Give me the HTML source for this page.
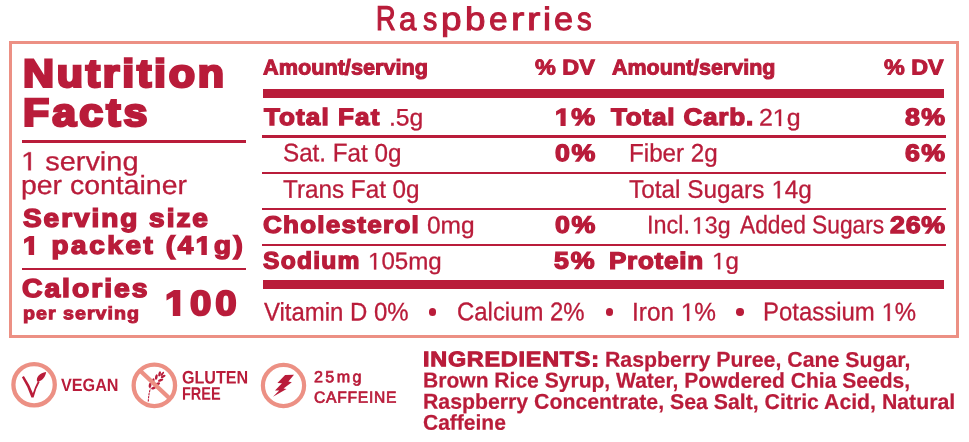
<!DOCTYPE html>
<html><head><meta charset="utf-8"><title>Nutrition Facts</title>
<style>
html,body{margin:0;padding:0;background:#fff;}
body{width:969px;height:442px;position:relative;overflow:hidden;font-family:"Liberation Sans",sans-serif;}
.w{position:absolute;left:0;top:0;width:969px;height:442px;will-change:transform;}
.t{position:absolute;white-space:pre;line-height:1;transform-origin:0 0;font-family:"Liberation Sans",sans-serif;}
.r{position:absolute;background:#B91C3A;}
svg{position:absolute;overflow:visible;}
</style></head><body><div class="w">
<div style="position:absolute;left:9px;top:41px;width:944px;height:291px;border:3px solid #EC9084;box-sizing:content-box;"></div>
<!-- left panel rules -->
<div class="r" style="left:22.3px;top:140px;width:224px;height:3px;"></div>
<div class="r" style="left:22.4px;top:267.8px;width:223.8px;height:2.1px;"></div>
<!-- table rules -->
<div class="r" style="left:263px;top:89px;width:681.3px;height:8.7px;"></div>
<div class="r" style="left:262.2px;top:135px;width:683.4px;height:3px;"></div>
<div class="r" style="left:262.2px;top:171.8px;width:683.4px;height:2.2px;"></div>
<div class="r" style="left:262.2px;top:207.8px;width:683.4px;height:2.2px;"></div>
<div class="r" style="left:262.2px;top:243.8px;width:683.4px;height:2.3px;"></div>
<div class="r" style="left:263px;top:280.4px;width:681.3px;height:8.7px;"></div>
<!-- bullets -->
<div class="r" style="left:428.9px;top:308.4px;width:7.4px;height:7.4px;border-radius:50%;"></div>
<div class="r" style="left:605.5px;top:308.4px;width:7.4px;height:7.4px;border-radius:50%;"></div>
<div class="r" style="left:736.3px;top:308.4px;width:7.4px;height:7.4px;border-radius:50%;"></div>
<!-- icons -->
<svg width="969" height="442" viewBox="0 0 969 442" style="left:0;top:0;">
  <!-- vegan -->
  <circle cx="34.1" cy="384.75" r="20.7" fill="none" stroke="#EC9084" stroke-width="4.3"/>
  <path d="M21.9 377.3 L23.9 376.0 Q29.5 384.5 32.9 393.2 Q35 386.5 38.0 381.0 L39.6 382.0 Q35.5 389 33.6 397.4 L31.4 397.4 Q28 387 21.9 377.3 Z" fill="#B91C3A"/>
  <path d="M37.0 381.3 C36.0 377.4 39.6 372.8 46.1 372.0 C45.5 376.6 42.8 380.4 38.3 381.7 Z" fill="#B91C3A"/>
  <!-- gluten free -->
  <circle cx="154.35" cy="385.4" r="20.7" fill="none" stroke="#EC9084" stroke-width="4.3"/>
  <g fill="#B91C3A" stroke="none">
    <path d="M148.3 401.6 Q148.6 394 150.4 388.6" fill="none" stroke="#B91C3A" stroke-width="1.1" stroke-dasharray="2.3 0.8"/>
    <g transform="translate(150.3,388.4) rotate(-50.5) scale(0.94)">
      <ellipse cx="2.4" cy="-2.3" rx="3.0" ry="1.45" transform="rotate(-30 2.4 -2.3)"/>
      <ellipse cx="2.6" cy="2.4" rx="2.8" ry="1.4" transform="rotate(30 2.6 2.4)"/>
      <ellipse cx="8.0" cy="-2.7" rx="3.0" ry="1.45" transform="rotate(-30 8.0 -2.7)"/>
      <ellipse cx="8.4" cy="2.9" rx="3.0" ry="1.45" transform="rotate(30 8.4 2.9)"/>
      <ellipse cx="13.4" cy="-2.7" rx="3.0" ry="1.4" transform="rotate(-28 13.4 -2.7)"/>
      <ellipse cx="13.8" cy="2.9" rx="3.0" ry="1.4" transform="rotate(28 13.8 2.9)"/>
      <ellipse cx="18.2" cy="-2.2" rx="2.8" ry="1.3" transform="rotate(-24 18.2 -2.2)"/>
      <ellipse cx="18.6" cy="2.4" rx="2.8" ry="1.3" transform="rotate(24 18.6 2.4)"/>
      <ellipse cx="20.0" cy="0" rx="2.8" ry="1.1"/>
    </g>
  </g>
  <path d="M140.2 370.7 L168.9 397.7" stroke="#EC9084" stroke-width="4.3" fill="none"/>
  <!-- caffeine -->
  <circle cx="283.5" cy="385.5" r="20.6" fill="none" stroke="#EC9084" stroke-width="4.2"/>
  <path d="M285.1 375 L294 374.8 L288.4 381.6 L291.8 382.2 L283.5 388.5 L286.5 389.1 L273 396.7 L279.2 390.4 L275 390.4 L281.95 383.3 L277.4 382.9 Z" fill="#B91C3A"/>
</svg>

<span class="t" style="left:375.85px;top:0px;font-size:34.01px;font-weight:400;color:#B91C3A;-webkit-text-stroke:1.3px #B91C3A;transform:translate(0,0.82px) scale(0.7992,1.0000) rotate(0.03deg);">R</span>
<span class="t" style="left:399.09px;top:3px;font-size:32.41px;font-weight:400;color:#B91C3A;-webkit-text-stroke:1.0px #B91C3A;transform:translate(0,0.03px) scale(0.9636,1.0000) rotate(0.03deg);">a</span>
<span class="t" style="left:422.88px;top:3px;font-size:32.41px;font-weight:400;color:#B91C3A;-webkit-text-stroke:1.0px #B91C3A;transform:translate(0,0.12px) scale(0.8829,1.0000) rotate(0.03deg);">s</span>
<span class="t" style="left:441.11px;top:2px;font-size:32.41px;font-weight:400;color:#B91C3A;-webkit-text-stroke:1.0px #B91C3A;transform:translate(0,0.93px) scale(1.1412,1.0000) rotate(0.03deg);">p</span>
<span class="t" style="left:465.09px;top:3px;font-size:32.41px;font-weight:400;color:#B91C3A;-webkit-text-stroke:1.0px #B91C3A;transform:translate(0,0.03px) scale(1.1353,1.0000) rotate(0.03deg);">b</span>
<span class="t" style="left:488.83px;top:2px;font-size:32.41px;font-weight:400;color:#B91C3A;-webkit-text-stroke:1.0px #B91C3A;transform:translate(0,0.93px) scale(1.0326,1.0000) rotate(0.03deg);">e</span>
<span class="t" style="left:510.67px;top:2px;font-size:32.41px;font-weight:400;color:#B91C3A;-webkit-text-stroke:1.0px #B91C3A;transform:translate(0,0.93px) scale(1.2315,1.0000) rotate(0.03deg);">r</span>
<span class="t" style="left:526.97px;top:2px;font-size:32.41px;font-weight:400;color:#B91C3A;-webkit-text-stroke:1.0px #B91C3A;transform:translate(0,0.93px) scale(1.2315,1.0000) rotate(0.03deg);">r</span>
<span class="t" style="left:542.79px;top:3px;font-size:32.41px;font-weight:400;color:#B91C3A;-webkit-text-stroke:1.0px #B91C3A;transform:translate(0,0.12px) scale(1.1147,1.0000) rotate(0.03deg);">i</span>
<span class="t" style="left:554.26px;top:3px;font-size:32.41px;font-weight:400;color:#B91C3A;-webkit-text-stroke:1.0px #B91C3A;transform:translate(0,0.03px) scale(1.0570,1.0000) rotate(0.03deg);">e</span>
<span class="t" style="left:576.50px;top:2px;font-size:32.41px;font-weight:400;color:#B91C3A;-webkit-text-stroke:1.0px #B91C3A;transform:translate(0,0.93px) scale(0.9079,1.0000) rotate(0.03deg);">s</span>
<span class="t" style="left:22.70px;top:53px;font-size:39.1px;font-weight:700;color:#B91C3A;-webkit-text-stroke:2.6px #B91C3A;letter-spacing:2.504px;transform:translate(0,0.63px) scale(1.1000,1.0000) rotate(0.03deg);">Nutrition</span>
<span class="t" style="left:22.57px;top:93px;font-size:38.95px;font-weight:700;color:#B91C3A;-webkit-text-stroke:2.6px #B91C3A;letter-spacing:2.837px;transform:translate(0,0.70px) scale(1.1000,1.0000) rotate(0.03deg);">Facts</span>
<span class="t" style="left:21.08px;top:148px;font-size:26.31px;font-weight:400;color:#B91C3A;-webkit-text-stroke:0.3px #B91C3A;transform:translate(0,0.24px) scale(1.1016,1.0000) rotate(0.03deg);"><svg viewBox="0 0 1139 1409" style="position:static;display:inline-block;width:0.5562em;height:0.6880em;vertical-align:baseline;overflow:visible;"><polygon points="515,1409 515,172 197,399 197,229 530,0 696,0 696,1409" fill="currentColor" stroke="currentColor" stroke-width="23.4" stroke-linejoin="miter"/></svg> serving</span>
<span class="t" style="left:20.88px;top:171px;font-size:26.31px;font-weight:400;color:#B91C3A;-webkit-text-stroke:0.3px #B91C3A;transform:translate(0,0.95px) scale(1.0812,1.0000) rotate(0.03deg);">per container</span>
<span class="t" style="left:22.55px;top:205px;font-size:25.44px;font-weight:700;color:#B91C3A;-webkit-text-stroke:1.5px #B91C3A;letter-spacing:1.787px;transform:translate(0,0.75px) scale(1.1000,1.0000) rotate(0.03deg);">Serving size</span>
<span class="t" style="left:23.23px;top:232px;font-size:25.29px;font-weight:700;color:#B91C3A;-webkit-text-stroke:1.5px #B91C3A;letter-spacing:2.404px;transform:translate(0,0.76px) scale(1.1000,1.0000) rotate(0.03deg);"><svg viewBox="0 0 1139 1409" style="position:static;display:inline-block;width:0.5562em;height:0.6880em;vertical-align:baseline;overflow:visible;margin-right:2.404px;"><polygon points="478,1409 478,239 140,450 140,229 493,0 759,0 759,1409" fill="currentColor" stroke="currentColor" stroke-width="121.5" stroke-linejoin="miter"/></svg> packet (4<svg viewBox="0 0 1139 1409" style="position:static;display:inline-block;width:0.5562em;height:0.6880em;vertical-align:baseline;overflow:visible;margin-right:2.404px;"><polygon points="478,1409 478,239 140,450 140,229 493,0 759,0 759,1409" fill="currentColor" stroke="currentColor" stroke-width="121.5" stroke-linejoin="miter"/></svg>g)</span>
<span class="t" style="left:22.02px;top:275px;font-size:25.73px;font-weight:700;color:#B91C3A;-webkit-text-stroke:1.5px #B91C3A;letter-spacing:1.787px;transform:translate(0,0.98px) scale(1.1000,1.0000) rotate(0.03deg);">Calories</span>
<span class="t" style="left:23.06px;top:305px;font-size:17.88px;font-weight:700;color:#B91C3A;-webkit-text-stroke:1.0px #B91C3A;letter-spacing:0.916px;transform:translate(0,0.20px) scale(1.1000,1.0000) rotate(0.03deg);">per serving</span>
<span class="t" style="left:164.69px;top:286px;font-size:34.88px;font-weight:700;color:#B91C3A;-webkit-text-stroke:2.0px #B91C3A;letter-spacing:3.457px;transform:translate(0,0.10px) scale(1.1000,1.0000) rotate(0.03deg);"><svg viewBox="0 0 1139 1409" style="position:static;display:inline-block;width:0.5562em;height:0.6880em;vertical-align:baseline;overflow:visible;margin-right:3.457px;"><polygon points="478,1409 478,239 140,450 140,229 493,0 759,0 759,1409" fill="currentColor" stroke="currentColor" stroke-width="117.4" stroke-linejoin="miter"/></svg>00</span>
<span class="t" style="left:263.33px;top:57px;font-size:21.51px;font-weight:700;color:#B91C3A;-webkit-text-stroke:1.0px #B91C3A;transform:translate(0,0.46px) scale(1.0083,1.0000) rotate(0.03deg);">Amount/serving</span>
<span class="t" style="left:535.36px;top:57px;font-size:21.51px;font-weight:700;color:#B91C3A;-webkit-text-stroke:1.0px #B91C3A;transform:translate(0,0.46px) scale(1.0885,1.0000) rotate(0.03deg);">% DV</span>
<span class="t" style="left:611.57px;top:57px;font-size:21.51px;font-weight:700;color:#B91C3A;-webkit-text-stroke:1.0px #B91C3A;transform:translate(0,0.48px) scale(0.9985,1.0000) rotate(0.03deg);">Amount/serving</span>
<span class="t" style="left:884.16px;top:57px;font-size:21.51px;font-weight:700;color:#B91C3A;-webkit-text-stroke:1.0px #B91C3A;transform:translate(0,0.46px) scale(1.0848,1.0000) rotate(0.03deg);">% DV</span>
<span class="t" style="left:264.49px;top:105px;font-size:23.69px;font-weight:700;color:#B91C3A;-webkit-text-stroke:1.3px #B91C3A;letter-spacing:0.988px;transform:translate(0,0.97px) scale(1.1000,1.0000) rotate(0.03deg);">Total Fat</span>
<span class="t" style="left:389.01px;top:105px;font-size:23.84px;font-weight:400;color:#B91C3A;-webkit-text-stroke:0.3px #B91C3A;transform:translate(0,0.59px) scale(1.0366,1.0000) rotate(0.03deg);">.5g</span>
<span class="t" style="left:554.84px;top:106px;font-size:23.69px;font-weight:700;color:#B91C3A;-webkit-text-stroke:1.3px #B91C3A;letter-spacing:1.208px;transform:translate(0,0.01px) scale(1.1300,1.0000) rotate(0.03deg);"><svg viewBox="0 0 1139 1409" style="position:static;display:inline-block;width:0.5562em;height:0.6880em;vertical-align:baseline;overflow:visible;margin-right:1.208px;"><polygon points="478,1409 478,239 140,450 140,229 493,0 759,0 759,1409" fill="currentColor" stroke="currentColor" stroke-width="112.4" stroke-linejoin="miter"/></svg>%</span>
<span class="t" style="left:611.02px;top:105px;font-size:23.69px;font-weight:700;color:#B91C3A;-webkit-text-stroke:1.3px #B91C3A;letter-spacing:0.738px;transform:translate(0,0.96px) scale(1.1000,1.0000) rotate(0.03deg);">Total Carb.</span>
<span class="t" style="left:758.78px;top:105px;font-size:23.84px;font-weight:400;color:#B91C3A;-webkit-text-stroke:0.3px #B91C3A;transform:translate(0,0.56px) scale(1.0475,1.0000) rotate(0.03deg);">2<svg viewBox="0 0 1139 1409" style="position:static;display:inline-block;width:0.5562em;height:0.6880em;vertical-align:baseline;overflow:visible;"><polygon points="515,1409 515,172 197,399 197,229 530,0 696,0 696,1409" fill="currentColor" stroke="currentColor" stroke-width="25.8" stroke-linejoin="miter"/></svg>g</span>
<span class="t" style="left:904.83px;top:105px;font-size:23.69px;font-weight:700;color:#B91C3A;-webkit-text-stroke:1.3px #B91C3A;letter-spacing:1.228px;transform:translate(0,0.96px) scale(1.1300,1.0000) rotate(0.03deg);">8%</span>
<span class="t" style="left:283.01px;top:140px;font-size:25.29px;font-weight:400;color:#B91C3A;-webkit-text-stroke:0.3px #B91C3A;transform:translate(0,0.34px) scale(0.9579,1.0000) rotate(0.03deg);">Sat. Fat 0g</span>
<span class="t" style="left:554.64px;top:142px;font-size:23.69px;font-weight:700;color:#B91C3A;-webkit-text-stroke:1.3px #B91C3A;letter-spacing:1.382px;transform:translate(0,0.01px) scale(1.1300,1.0000) rotate(0.03deg);">0%</span>
<span class="t" style="left:628.79px;top:140px;font-size:25.29px;font-weight:400;color:#B91C3A;-webkit-text-stroke:0.3px #B91C3A;transform:translate(0,0.41px) scale(0.9566,1.0000) rotate(0.03deg);">Fiber 2g</span>
<span class="t" style="left:904.71px;top:142px;font-size:23.69px;font-weight:700;color:#B91C3A;-webkit-text-stroke:1.3px #B91C3A;letter-spacing:1.322px;transform:translate(0,0.01px) scale(1.1300,1.0000) rotate(0.03deg);">6%</span>
<span class="t" style="left:282.64px;top:176px;font-size:25.29px;font-weight:400;color:#B91C3A;-webkit-text-stroke:0.3px #B91C3A;transform:translate(0,0.74px) scale(0.9595,1.0000) rotate(0.03deg);">Trans Fat 0g</span>
<span class="t" style="left:628.92px;top:176px;font-size:25.29px;font-weight:400;color:#B91C3A;-webkit-text-stroke:0.3px #B91C3A;transform:translate(0,0.82px) scale(0.9632,1.0000) rotate(0.03deg);">Total Sugars <svg viewBox="0 0 1139 1409" style="position:static;display:inline-block;width:0.5562em;height:0.6880em;vertical-align:baseline;overflow:visible;"><polygon points="515,1409 515,172 197,399 197,229 530,0 696,0 696,1409" fill="currentColor" stroke="currentColor" stroke-width="24.3" stroke-linejoin="miter"/></svg>4g</span>
<span class="t" style="left:263.39px;top:213px;font-size:23.69px;font-weight:700;color:#B91C3A;-webkit-text-stroke:1.3px #B91C3A;letter-spacing:1.132px;transform:translate(0,0.76px) scale(1.1000,1.0000) rotate(0.03deg);">Cholesterol</span>
<span class="t" style="left:426.92px;top:213px;font-size:23.84px;font-weight:400;color:#B91C3A;-webkit-text-stroke:0.3px #B91C3A;transform:translate(0,0.18px) scale(1.0288,1.0000) rotate(0.03deg);">0mg</span>
<span class="t" style="left:554.64px;top:213px;font-size:23.69px;font-weight:700;color:#B91C3A;-webkit-text-stroke:1.3px #B91C3A;letter-spacing:1.382px;transform:translate(0,0.81px) scale(1.1300,1.0000) rotate(0.03deg);">0%</span>
<span class="t" style="left:647.35px;top:212px;font-size:25.29px;font-weight:400;color:#B91C3A;-webkit-text-stroke:0.3px #B91C3A;transform:translate(0,0.20px) scale(0.9269,1.0000) rotate(0.03deg);">Incl.</span>
<span class="t" style="left:692.23px;top:213px;font-size:23.84px;font-weight:400;color:#B91C3A;-webkit-text-stroke:0.3px #B91C3A;transform:translate(0,0.25px) scale(0.9715,1.0000) rotate(0.03deg);"><svg viewBox="0 0 1139 1409" style="position:static;display:inline-block;width:0.5562em;height:0.6880em;vertical-align:baseline;overflow:visible;"><polygon points="515,1409 515,172 197,399 197,229 530,0 696,0 696,1409" fill="currentColor" stroke="currentColor" stroke-width="25.8" stroke-linejoin="miter"/></svg>3g</span>
<span class="t" style="left:740.03px;top:212px;font-size:25.29px;font-weight:400;color:#B91C3A;-webkit-text-stroke:0.3px #B91C3A;transform:translate(0,0.28px) scale(0.9002,1.0000) rotate(0.03deg);">Added Sugars</span>
<span class="t" style="left:889.63px;top:213px;font-size:23.69px;font-weight:700;color:#B91C3A;-webkit-text-stroke:1.3px #B91C3A;letter-spacing:0.681px;transform:translate(0,0.91px) scale(1.1300,1.0000) rotate(0.03deg);">26%</span>
<span class="t" style="left:263.30px;top:249px;font-size:23.69px;font-weight:700;color:#B91C3A;-webkit-text-stroke:1.3px #B91C3A;letter-spacing:1.170px;transform:translate(0,0.56px) scale(1.0400,1.0000) rotate(0.03deg);">Sodium</span>
<span class="t" style="left:367.69px;top:249px;font-size:23.84px;font-weight:400;color:#B91C3A;-webkit-text-stroke:0.3px #B91C3A;transform:translate(0,0.11px) scale(1.0123,1.0000) rotate(0.03deg);"><svg viewBox="0 0 1139 1409" style="position:static;display:inline-block;width:0.5562em;height:0.6880em;vertical-align:baseline;overflow:visible;"><polygon points="515,1409 515,172 197,399 197,229 530,0 696,0 696,1409" fill="currentColor" stroke="currentColor" stroke-width="25.8" stroke-linejoin="miter"/></svg>05mg</span>
<span class="t" style="left:554.21px;top:249px;font-size:23.69px;font-weight:700;color:#B91C3A;-webkit-text-stroke:1.3px #B91C3A;letter-spacing:1.750px;transform:translate(0,0.56px) scale(1.1300,1.0000) rotate(0.03deg);">5%</span>
<span class="t" style="left:608.98px;top:249px;font-size:23.69px;font-weight:700;color:#B91C3A;-webkit-text-stroke:1.3px #B91C3A;letter-spacing:0.660px;transform:translate(0,0.67px) scale(1.1000,1.0000) rotate(0.03deg);">Protein</span>
<span class="t" style="left:712.27px;top:248px;font-size:23.84px;font-weight:400;color:#B91C3A;-webkit-text-stroke:0.3px #B91C3A;transform:translate(0,0.91px) scale(1.0110,1.0000) rotate(0.03deg);"><svg viewBox="0 0 1139 1409" style="position:static;display:inline-block;width:0.5562em;height:0.6880em;vertical-align:baseline;overflow:visible;"><polygon points="515,1409 515,172 197,399 197,229 530,0 696,0 696,1409" fill="currentColor" stroke="currentColor" stroke-width="25.8" stroke-linejoin="miter"/></svg>g</span>
<span class="t" style="left:263.66px;top:299px;font-size:25.44px;font-weight:400;color:#B91C3A;-webkit-text-stroke:0.3px #B91C3A;transform:translate(0,0.45px) scale(0.9410,1.0000) rotate(0.03deg);">Vitamin D 0%</span>
<span class="t" style="left:457.20px;top:299px;font-size:25.44px;font-weight:400;color:#B91C3A;-webkit-text-stroke:0.3px #B91C3A;transform:translate(0,0.32px) scale(0.9403,1.0000) rotate(0.03deg);">Calcium 2%</span>
<span class="t" style="left:631.54px;top:299px;font-size:25.44px;font-weight:400;color:#B91C3A;-webkit-text-stroke:0.3px #B91C3A;transform:translate(0,0.39px) scale(0.9590,1.0000) rotate(0.03deg);">Iron <svg viewBox="0 0 1139 1409" style="position:static;display:inline-block;width:0.5562em;height:0.6880em;vertical-align:baseline;overflow:visible;"><polygon points="515,1409 515,172 197,399 197,229 530,0 696,0 696,1409" fill="currentColor" stroke="currentColor" stroke-width="24.2" stroke-linejoin="miter"/></svg>%</span>
<span class="t" style="left:762.67px;top:299px;font-size:25.44px;font-weight:400;color:#B91C3A;-webkit-text-stroke:0.3px #B91C3A;transform:translate(0,0.31px) scale(0.9417,1.0000) rotate(0.03deg);">Potassium <svg viewBox="0 0 1139 1409" style="position:static;display:inline-block;width:0.5562em;height:0.6880em;vertical-align:baseline;overflow:visible;"><polygon points="515,1409 515,172 197,399 197,229 530,0 696,0 696,1409" fill="currentColor" stroke="currentColor" stroke-width="24.2" stroke-linejoin="miter"/></svg>%</span>
<span class="t" style="left:60.50px;top:377px;font-size:17.88px;font-weight:700;color:#B91C3A;transform:translate(0,0.05px) scale(0.9060,1.0000) rotate(0.03deg);">VEGAN</span>
<span class="t" style="left:181.68px;top:368px;font-size:18.17px;font-weight:700;color:#B91C3A;transform:translate(0,0.53px) scale(0.8875,1.0000) rotate(0.03deg);">GLUTEN</span>
<span class="t" style="left:182.20px;top:384px;font-size:18.02px;font-weight:700;color:#B91C3A;transform:translate(0,0.77px) scale(0.8066,1.0000) rotate(0.03deg);">FREE</span>
<span class="t" style="left:313.63px;top:368px;font-size:16.13px;font-weight:400;color:#B91C3A;-webkit-text-stroke:0.7px #B91C3A;letter-spacing:2.409px;transform:translate(0,0.24px) scale(1.0000,1.0000) rotate(0.03deg);">25mg</span>
<span class="t" style="left:314.08px;top:388px;font-size:16.13px;font-weight:400;color:#B91C3A;-webkit-text-stroke:0.7px #B91C3A;letter-spacing:0.769px;transform:translate(0,0.71px) scale(0.9700,1.0000) rotate(0.03deg);">CAFFEINE</span>
<span class="t" style="left:422.68px;top:348px;font-size:21.22px;font-weight:700;color:#B91C3A;-webkit-text-stroke:1.0px #B91C3A;letter-spacing:0.717px;transform:translate(0,0.30px) scale(1.1000,1.0000) rotate(0.03deg);">INGREDIENTS:</span>
<span class="t" style="left:604.82px;top:349px;font-size:21.51px;font-weight:700;color:#B91C3A;-webkit-text-stroke:0.2px #B91C3A;transform:translate(0,0.77px) scale(0.9904,1.0000) rotate(0.03deg);">Raspberry Puree, Cane Sugar,</span>
<span class="t" style="left:422.75px;top:370px;font-size:21.51px;font-weight:700;color:#B91C3A;-webkit-text-stroke:0.2px #B91C3A;transform:translate(0,0.53px) scale(0.9794,1.0000) rotate(0.03deg);">Brown Rice Syrup, Water, Powdered Chia Seeds,</span>
<span class="t" style="left:423.03px;top:391px;font-size:21.51px;font-weight:700;color:#B91C3A;-webkit-text-stroke:0.2px #B91C3A;transform:translate(0,0.77px) scale(0.9891,1.0000) rotate(0.03deg);">Raspberry Concentrate, Sea Salt, Citric Acid, Natural</span>
<span class="t" style="left:423.37px;top:412px;font-size:21.51px;font-weight:700;color:#B91C3A;-webkit-text-stroke:0.2px #B91C3A;transform:translate(0,0.73px) scale(0.9769,1.0000) rotate(0.03deg);">Caffeine</span>
</div></body></html>
